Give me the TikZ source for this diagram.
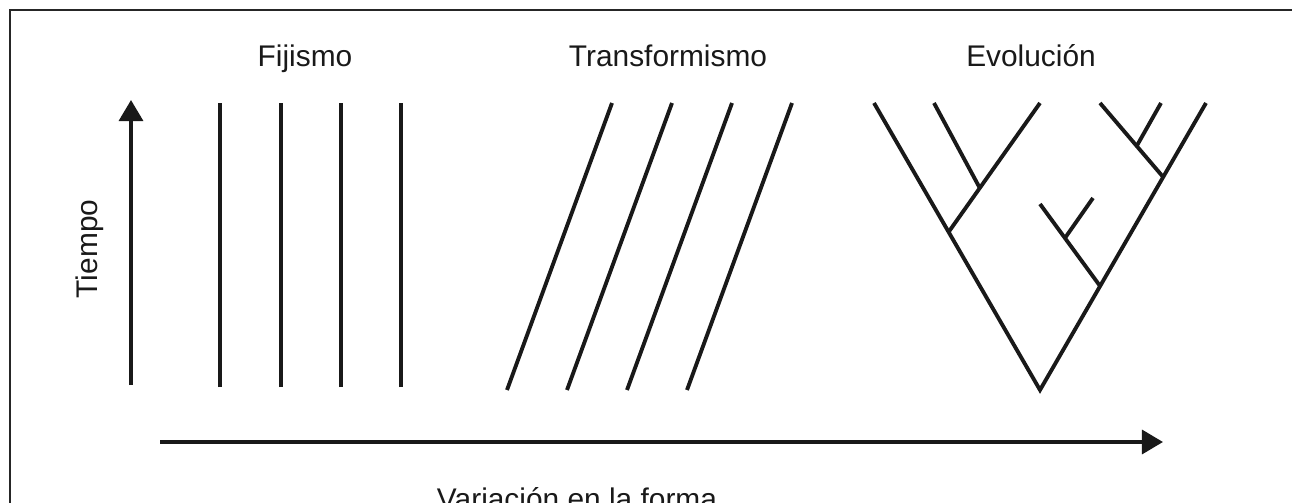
\documentclass[tikz,border=0pt]{standalone}
\usepackage{fontspec}
\setmainfont{Liberation Sans}
\usetikzlibrary{arrows.meta, calc}

\tikzset{
    stroke/.style={line width=2.2pt, color=black!90},
    axisarrow/.style={stroke, -{Triangle[length=12pt, width=13.6pt]}},
    title/.style={font=\fontsize{17}{20}\selectfont, color=black!90, inner sep=0pt, anchor=base}
}

\begin{document}
\begin{tikzpicture}[x=0.02cm, y=-0.02cm]
        % Frame:
        \clip (0, 0) rectangle (1292, 503);
        \draw[line width=1.2pt, color=black!85] (10, 10) rectangle (1310, 530);

        % Axes:
        \coordinate (t0) at (131, 385);
        \coordinate (t1) at (131, 100);
        \coordinate (v0) at (160, 442);
        \coordinate (v1) at (1163, 442);
        \draw[axisarrow] (t0) -- (t1);
        \draw[axisarrow] (v0) -- (v1);

        % Labels:
        \node[title, rotate=90] (tiempo) at (97, 249) {Tiempo};
        \node[title] (variacion) at (577, 509) {Variación en la forma};
        \node[title] (fijismo) at (305, 67) {Fijismo};
        \node[title] (transformismo) at (668, 67) {Transformismo};
        \node[title] (evolucion) at (1031, 67) {Evolución};

        % Fijismo:
        \foreach \x [count=\i] in {220, 281, 341, 401} {
            \coordinate (f\i a) at (\x, 387);
            \coordinate (f\i b) at (\x, 103);
            \draw[stroke] (f\i a) -- (f\i b);
        }

        % Transformismo:
        \foreach \x [count=\i] in {507, 567, 627, 687} {
            \coordinate (m\i a) at (\x, 390);
            \coordinate (m\i b) at (\x + 105, 103);
            \draw[stroke] (m\i a) -- (m\i b);
        }

        % Evolucion (tree):
        \coordinate (root) at (1040, 390);
        \coordinate (leaf1) at (874, 103);
        \coordinate (leaf2) at (934, 103);
        \coordinate (leaf3) at (1040, 103);
        \coordinate (leaf4) at (1040, 204);
        \coordinate (leaf5) at (1093, 198);
        \coordinate (leaf6) at (1100, 103);
        \coordinate (leaf7) at (1161, 103);
        \coordinate (leaf8) at (1206, 103);
        \coordinate (na) at ($(root)!0.5505!(leaf1)$);
        \coordinate (nb) at ($(na)!0.341!(leaf3)$);
        \coordinate (nc) at ($(root)!0.742!(leaf8)$);
        \coordinate (nd) at ($(nc)!0.419!(leaf6)$);
        \coordinate (ne) at ($(root)!0.362!(leaf8)$);
        \coordinate (nf) at ($(ne)!0.585!(leaf4)$);

        \draw[stroke, line join=miter] (leaf1) -- (root) -- (leaf8);
        \draw[stroke] (na) -- (leaf3);
        \draw[stroke] (nb) -- (leaf2);
        \draw[stroke] (nc) -- (leaf6);
        \draw[stroke] (nd) -- (leaf7);
        \draw[stroke] (ne) -- (leaf4);
        \draw[stroke] (nf) -- (leaf5);
\end{tikzpicture}
\end{document}
